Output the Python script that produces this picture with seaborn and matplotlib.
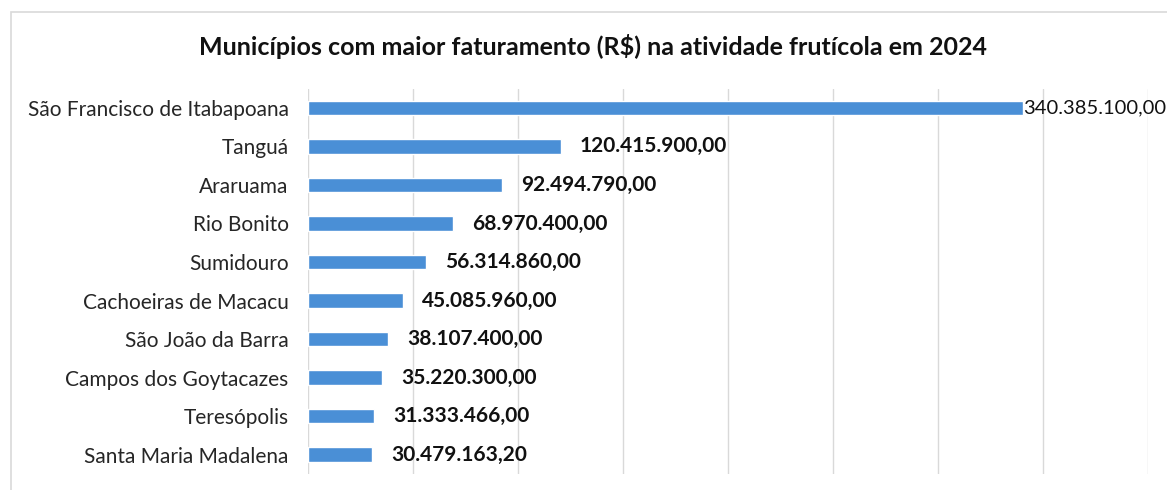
import pandas as pd
import seaborn as sns
import matplotlib.pyplot as plt
from matplotlib.patches import Rectangle

# data
municipios = ['São Francisco de Itabapoana', 'Tanguá', 'Araruama', 'Rio Bonito',
              'Sumidouro', 'Cachoeiras de Macacu', 'São João da Barra',
              'Campos dos Goytacazes', 'Teresópolis', 'Santa Maria Madalena']
faturamento = [340385100.00, 120415900.00, 92494790.00, 68970400.00, 56314860.00,
               45085960.00, 38107400.00, 35220300.00, 31333466.00, 30479163.20]
rotulos = ['340.385.100,00', '120.415.900,00', '92.494.790,00', '68.970.400,00',
           '56.314.860,00', '45.085.960,00', '38.107.400,00', '35.220.300,00',
           '31.333.466,00', '30.479.163,20']

df = pd.DataFrame({'municipio': municipios, 'valor': faturamento})

sns.set_style('white')
plt.rcParams['font.family'] = ['Lato', 'DejaVu Sans']

fig = plt.figure(figsize=(11.67, 4.9), dpi=100)
ax = fig.add_axes([0.264, 0.033, 0.72, 0.786])

sns.barplot(data=df, x='valor', y='municipio', color='#4a8fd6', saturation=1,
            width=0.37, ax=ax)

ax.set_xlim(0, 400e6)
ax.set_ylim(9.5, -0.5)
ax.set_xticks(range(0, 400000001, 50000000))
ax.xaxis.grid(True, color='#d9d9d9', linewidth=1)
ax.set_axisbelow(True)
ax.tick_params(axis='x', length=0, labelbottom=False)
ax.tick_params(axis='y', length=0, labelsize=15, colors='#262626', pad=14)
ax.set_xlabel('')
ax.set_ylabel('')
for s in ax.spines.values():
    s.set_visible(False)

# value labels
for i, (v, txt) in enumerate(zip(faturamento, rotulos)):
    if i == 0:
        ax.text(v, i, txt, va='center', ha='left', fontsize=14.5, color='#111111',
                clip_on=False)
    else:
        ax.text(v + 9e6, i, txt, va='center', ha='left', fontsize=15,
                fontweight='bold', color='#111111')

fig.text(0.508, 0.905, 'Municípios com maior faturamento (R$) na atividade frutícola em 2024',
         ha='center', va='center', fontsize=18, fontweight='bold', color='#111111')

# chart border
fig.patches.append(Rectangle((0.009, -0.02), 1.1, 0.996, transform=fig.transFigure,
                             fill=False, edgecolor='#d9d9d9', linewidth=1.2))

plt.savefig('out.png', dpi=100)
